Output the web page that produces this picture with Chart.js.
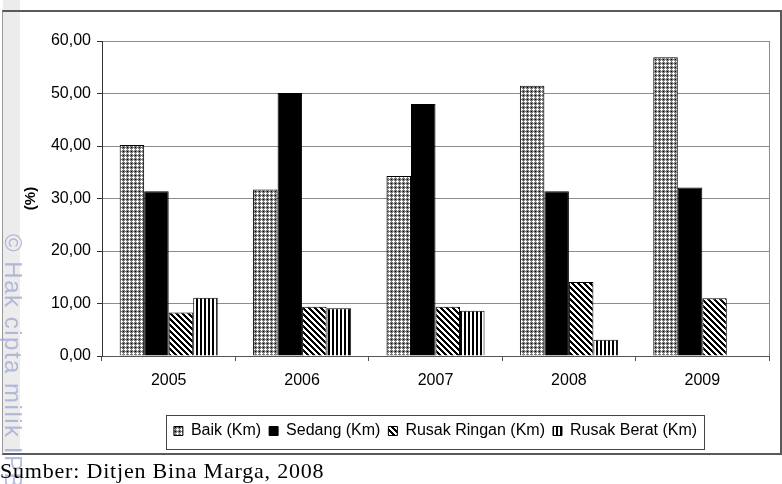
<!DOCTYPE html>
<html>
<head>
<meta charset="utf-8">
<script src="https://cdn.jsdelivr.net/npm/chart.js@4"></script>
<style>
  html, body { margin: 0; padding: 0; background: #fff; }
  body { width: 782px; height: 484px; position: relative; overflow: hidden; }
  #strip { position: absolute; left: 3px; top: 0; width: 17px; height: 452px; background: #ececec; }
  #frame { position: absolute; left: 2px; top: 10px; width: 777px; height: 441px;
           border-top: 2px solid #5a5a5a; border-right: 2px solid #5a5a5a;
           border-bottom: 2px solid #5a5a5a; border-left: 1px solid #999; }
  #feed { position: absolute; left: 0; top: 0; }
  #mark { position: absolute; left: 13px; top: 234px; transform-origin: 0 0; transform: rotate(90deg) translateY(-50%);
          white-space: nowrap; font-family: "Liberation Sans", Arial, sans-serif; font-size: 24px; letter-spacing: 1.5px;
          color: rgba(150, 160, 205, 0.7); }
  #source { position: absolute; left: 0; top: 458px; font-family: "Liberation Serif", "Times New Roman", serif;
            font-size: 22px; letter-spacing: 0.8px; color: #000; white-space: nowrap; }
</style>
</head>
<body>
<div id="strip"></div>
<div id="frame"></div>
<canvas id="feed" width="782" height="452"></canvas>
<div id="mark">© Hak cipta milik IPB</div>
<div id="source">Sumber: Ditjen Bina Marga, 2008</div>
<script>
var years = ["2005", "2006", "2007", "2008", "2009"];
var baik = [40.2, 31.7, 34.3, 51.5, 56.9];
var sedang = [31.4, 50.1, 48.0, 31.4, 32.1];
var rusakRingan = [8.3, 9.4, 9.4, 14.1, 11.0];
var rusakBerat = [11.1, 9.1, 8.6, 3.1, null];
var yTickLabels = ["0,00", "10,00", "20,00", "30,00", "40,00", "50,00", "60,00"];

// little tiles for the black & white fills
function makePattern(size, pix) {
    var c = document.createElement("canvas");
    c.width = size; c.height = size;
    var g = c.getContext("2d");
    for (var y = 0; y < size; y++) {
        for (var x = 0; x < size; x++) {
            g.fillStyle = pix(x, y);
            g.fillRect(x, y, 1, 1);
        }
    }
    return g.createPattern(c, "repeat");
}
var ctxMain = document.getElementById("feed").getContext("2d");
var crossFill = makePattern(4, function(x, y) {
    if ((x == 1 && y <= 2) || (y == 1 && x <= 2)) return "#ffffff";
    if (x == 3 && y == 3) return "#000000";
    return "#7a7a7a";
});
var diagFill = makePattern(6, function(x, y) {
    return (((x - y) % 6 + 6) % 6) < 3 ? "#000000" : "#ffffff";
});
var vertFill = makePattern(4, function(x, y) {
    return x % 4 < 2 ? "#000000" : "#ffffff";
});

var extras = {
    id: "extras",
    afterDraw: function(chart) {
        var c = chart.ctx, a = chart.chartArea;
        c.save();
        c.strokeStyle = "#8c8c8c";
        c.lineWidth = 1;
        c.beginPath();
        c.moveTo(Math.round(a.right) + 0.5, a.top);
        c.lineTo(Math.round(a.right) + 0.5, a.bottom);
        c.stroke();
        var lg = chart.legend, hb = lg.legendHitBoxes;
        if (hb && hb.length) {
            var l = Math.round(hb[0].left) - 8;
            var last = hb[hb.length - 1];
            var r = Math.round(last.left + last.width) + 7;
            c.strokeStyle = "#444";
            c.strokeRect(l + 0.5, Math.round(lg.top) + 0.5, r - l, 34);
        }
        c.restore();
    }
};

function ds(label, values, fill) {
    return { label: label, data: values, backgroundColor: fill, borderColor: "#000", borderWidth: 1 };
}

var config = {
    type: "bar",
    data: {
        labels: years,
        datasets: [
            ds("Baik (Km)", baik, crossFill),
            ds("Sedang (Km)", sedang, "#000000"),
            ds("Rusak Ringan (Km)", rusakRingan, diagFill),
            ds("Rusak Berat (Km)", rusakBerat, vertFill)
        ]
    },
    options: {
        responsive: false,
        animation: false,
        devicePixelRatio: 1,
        layout: { padding: { left: 18, right: 13, top: 41, bottom: 3 } },
        datasets: { bar: { categoryPercentage: 0.735, barPercentage: 1.0 } },
        plugins: {
            tooltip: { enabled: false },
            legend: {
                position: "bottom",
                fullSize: false,
                labels: {
                    color: "#000",
                    font: { family: "'Liberation Sans', Arial, sans-serif", size: 16 },
                    boxWidth: 9,
                    boxHeight: 9,
                    padding: 8
                }
            }
        },
        scales: {
            x: {
                afterFit: function(s) { s.height = 59; },
                grid: { display: true, drawOnChartArea: false, drawTicks: true, tickLength: 5, color: "#555", offset: true },
                border: { color: "#555", width: 1 },
                ticks: { color: "#000", padding: 10, font: { family: "'Liberation Sans', Arial, sans-serif", size: 16 } }
            },
            y: {
                min: 0, max: 60,
                afterFit: function(s) { s.width = 84; },
                grid: { color: "#8c8c8c", tickColor: "#333", tickLength: 5 },
                border: { color: "#333", width: 1 },
                ticks: {
                    stepSize: 10, color: "#000", padding: 6,
                    font: { family: "'Liberation Sans', Arial, sans-serif", size: 16 },
                    callback: function(v) { return yTickLabels[Math.round(v / 10)]; }
                },
                title: { display: true, text: "(%)", color: "#000", padding: { top: 4, bottom: 4 },
                         font: { family: "'Liberation Sans', Arial, sans-serif", size: 15, weight: "bold" } }
            }
        }
    },
    plugins: [extras]
};

var feedbackChart = new Chart(ctxMain, config);
</script>
</body>
</html>
